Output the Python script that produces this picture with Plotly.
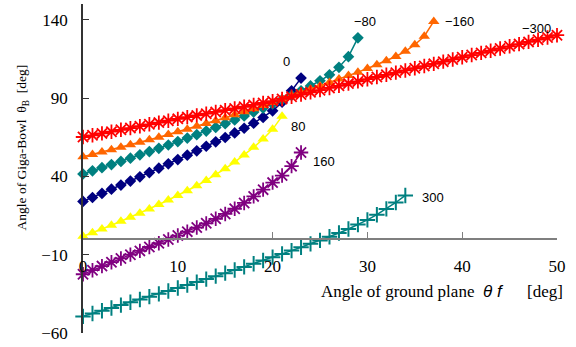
import plotly.graph_objects as go

# ---- data ----
x_0 = list(range(0, 24))
y_0 = [24.0, 26.5, 29.1, 31.8, 34.4, 37.0, 39.7, 42.4, 45.2, 48.0, 50.7, 53.5,
       56.3, 59.2, 62.0, 64.8, 67.7, 70.7, 73.9, 77.6, 81.8, 87.3, 94.6, 102.7]

x_m80 = list(range(0, 30))
y_m80 = [41.5, 43.5, 45.5, 47.5, 49.5, 51.6, 53.7, 55.8, 57.9, 60.0, 62.2, 64.4,
         66.6, 68.9, 71.2, 73.6, 76.0, 78.5, 81.0, 83.6, 86.2, 88.9, 91.7, 94.6,
         97.7, 101.0, 104.8, 109.6, 116.4, 128.4]

x_m160 = list(range(0, 38))
y_m160 = [52.5, 54.0, 55.5, 57.0, 58.5, 60.1, 61.7, 63.3, 65.0, 66.7, 68.4, 70.1,
          71.9, 73.7, 75.5, 77.4, 79.3, 81.2, 83.2, 85.2, 87.2, 89.3, 91.4, 93.5,
          95.6, 97.7, 99.9, 102.1, 104.3, 106.5, 108.8, 111.2, 113.7, 116.5, 119.8,
          124.0, 129.4, 138.9]

x_m300 = list(range(0, 51))
y_m300 = [65.1, 66.2, 67.4, 68.5, 69.7, 70.8, 72.0, 73.2, 74.3, 75.5, 76.7, 77.8,
          78.9, 80.0, 81.1, 82.2, 83.3, 84.4, 85.6, 86.8, 88.0, 89.4, 90.8, 92.2,
          93.6, 95.0, 96.4, 97.8, 99.2, 100.6, 102.0, 103.4, 104.8, 106.2, 107.6,
          109.0, 110.4, 111.8, 113.2, 114.6, 116.0, 117.4, 118.8, 120.2, 121.6,
          123.0, 124.4, 125.8, 127.2, 128.6, 130.1]

x_80 = list(range(0, 22))
y_80 = [1.8, 4.0, 6.4, 8.8, 11.3, 13.9, 16.5, 19.2, 22.0, 24.9, 27.8, 30.8,
        34.0, 37.4, 41.0, 44.9, 49.1, 53.6, 58.5, 63.8, 70.0, 78.4]

x_160 = list(range(0, 24))
y_160 = [-22.5, -19.9, -17.3, -14.8, -12.4, -10.0, -7.6, -5.1, -2.7, -0.3, 2.2,
         4.7, 7.3, 10.0, 12.9, 16.0, 19.3, 23.0, 27.2, 31.5, 36.0, 40.5, 46.5, 55.2]

x_300 = list(range(0, 35))
y_300 = [-49.4, -47.6, -45.8, -44.0, -42.2, -40.4, -38.6, -36.8, -35.0, -33.2,
         -31.3, -29.4, -27.5, -25.6, -23.7, -21.8, -19.8, -17.8, -15.8, -13.7,
         -11.6, -9.5, -7.4, -5.3, -3.1, -0.9, 1.4, 3.8, 6.4, 9.2, 12.2, 15.5,
         19.2, 23.3, 27.8]

x_ticks = [0, 10, 20, 30, 40, 50]
y_ticks = [-60, -10, 40, 90, 140]

# series label texts and their anchor points (data units)
label_text = ["0", "\u221280", "\u2212160", "\u2212300", "80", "160", "300"]
label_x = [21.5, 29.7, 39.7, 47.8, 22.7, 25.4, 36.9]
label_y = [113.4, 138.9, 138.9, 134.1, 71.8, 49.7, 26.7]

# ---- figure ----
fig = go.Figure()

def add(xs, ys, color, symbol, size, lw=0):
    fig.add_trace(go.Scatter(
        x=xs, y=ys, mode="lines+markers", cliponaxis=False,
        line=dict(color=color, width=1.5),
        marker=dict(color=color, symbol=symbol, size=size,
                    line=dict(color=color, width=lw)),
        showlegend=False, hoverinfo="x+y"))

add(x_300, y_300, "#008080", "cross-thin-open", 11, 2)
add(x_160, y_160, "#800080", "asterisk-open", 12, 1.8)
add(x_80, y_80, "#FFFF00", "triangle-up", 10)
add(x_0, y_0, "#000080", "diamond", 9)
add(x_m80, y_m80, "#008080", "diamond", 9)
add(x_m160, y_m160, "#FF6600", "triangle-up", 10)
add(x_m300, y_m300, "#FF0000", "asterisk-open", 12, 1.8)

for t, lx, ly in zip(label_text, label_x, label_y):
    fig.add_annotation(x=lx, y=ly, text=t, showarrow=False,
                       font=dict(family="Liberation Sans", size=13, color="#000"))

NB = "\u00a0"
# axis titles
fig.add_annotation(
    xref="paper", yref="paper", x=1.017, y=0.125, xanchor="right", yanchor="middle",
    text="Angle of ground plane" + NB * 2
         + "<span style='font-family:Liberation Sans'><i>\u03b8 f</i></span>"
         + NB * 6 + "[deg]",
    showarrow=False, font=dict(family="Liberation Serif", size=17, color="#000"))
fig.add_annotation(
    xref="paper", yref="paper", x=-0.128, y=0.565, xanchor="center", yanchor="middle",
    textangle=-90,
    text="Angle of Giga-Bowl" + NB * 2 + "\u03b8<sub>B</sub>" + NB * 2 + "[deg]",
    showarrow=False, font=dict(family="Liberation Serif", size=13.5, color="#000"))

y_min, y_max = -60, 150
fig.update_layout(
    width=576, height=347,
    margin=dict(l=83, r=19, t=4, b=11),
    paper_bgcolor="white", plot_bgcolor="white",
    xaxis=dict(range=[0, 50], tickvals=x_ticks, ticks="inside", ticklen=6,
               tickcolor="#7f7f7f", showline=True, linecolor="#7f7f7f", linewidth=1.5,
               showgrid=False, zeroline=False, anchor="free",
               position=(0 - y_min) / (y_max - y_min), ticklabelstandoff=12,
               tickfont=dict(family="Liberation Serif", size=17, color="#000")),
    yaxis=dict(range=[y_min, y_max], tickvals=y_ticks, ticks="inside", ticklen=6,
               tickcolor="#333", showline=True, linecolor="#333", linewidth=1.5,
               showgrid=False, zeroline=False, ticklabelstandoff=10,
               tickfont=dict(family="Liberation Serif", size=17, color="#000")),
)

fig.write_html("out.html", config={"displayModeBar": False},
               post_script="document.body.style.margin='0';")
